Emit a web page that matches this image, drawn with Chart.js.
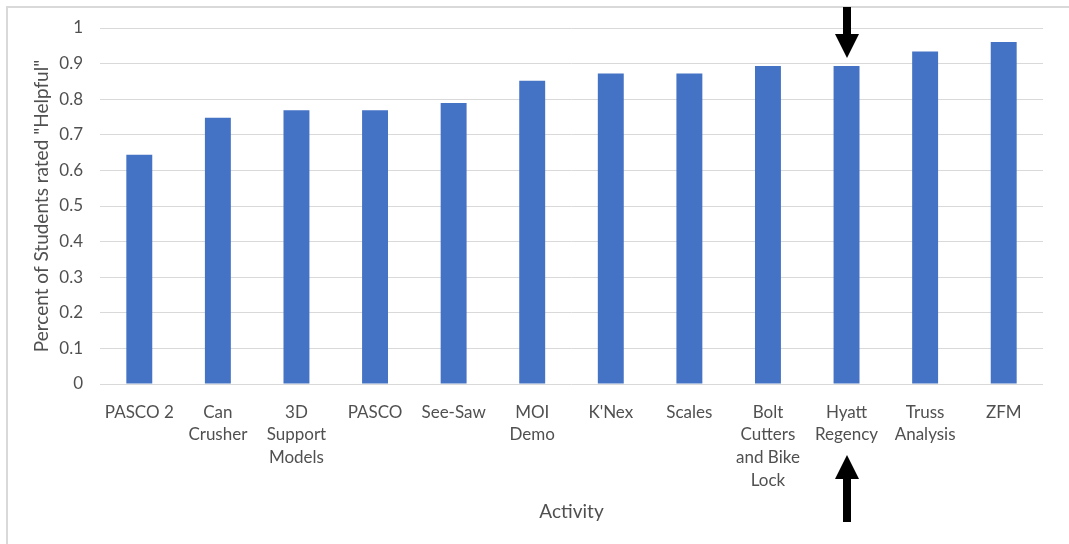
<!DOCTYPE html>
<html>
<head>
<meta charset="utf-8">
<script src="https://cdn.jsdelivr.net/npm/chart.js@4"></script>
<style>
  html, body { margin: 0; padding: 0; background: #ffffff; }
  #wrap { position: relative; width: 1069px; height: 544px; }
</style>
</head>
<body>
<div id="wrap"><canvas id="c" width="1069" height="544"></canvas></div>
<script>
// Activities, shown with their label line breaks
const categories = [
  ['PASCO 2'],
  ['Can', 'Crusher'],
  ['3D', 'Support', 'Models'],
  ['PASCO'],
  ['See-Saw'],
  ['MOI', 'Demo'],
  ["K'Nex"],
  ['Scales'],
  ['Bolt', 'Cutters', 'and Bike', 'Lock'],
  ['Hyatt', 'Regency'],
  ['Truss', 'Analysis'],
  ['ZFM']
];

// Share of students rating each activity "Helpful"
const helpfulShare = [0.644, 0.748, 0.769, 0.769, 0.789, 0.852, 0.872, 0.872, 0.893, 0.893, 0.934, 0.961];

// Value axis ticks
const yTicks = [0, 0.1, 0.2, 0.3, 0.4, 0.5, 0.6, 0.7, 0.8, 0.9, 1];

// Activity singled out with arrows above and below
const highlighted = 'Hyatt Regency';

const fontFamily = 'Lato, "Liberation Sans", sans-serif';
const textColor = '#505050';
const gridColor = '#d9d9d9';

// Light frame along the top and left edge
const framePlugin = {
  id: 'frame',
  beforeDraw(chart) {
    const ctx = chart.ctx;
    ctx.save();
    ctx.fillStyle = '#ffffff';
    ctx.fillRect(0, 0, chart.width, chart.height);
    ctx.strokeStyle = '#d9d9d9';
    ctx.lineWidth = 2;
    ctx.beginPath();
    ctx.moveTo(7, chart.height);
    ctx.lineTo(7, 7);
    ctx.lineTo(chart.width, 7);
    ctx.stroke();
    ctx.restore();
  }
};

// Black arrows pointing at the highlighted activity
const arrowPlugin = {
  id: 'arrows',
  afterDraw(chart) {
    const idx = categories.findIndex(c => c.join(' ') === highlighted);
    if (idx < 0) return;
    const xs = chart.scales.x, ys = chart.scales.y;
    const x = Math.round(xs.getPixelForValue(idx));
    const ctx = chart.ctx;
    const shaftHalf = 4, headHalf = 12, headLen = 24;
    ctx.save();
    ctx.fillStyle = '#000000';

    // pointing down onto the bar
    const tip = ys.getPixelForValue(helpfulShare[idx]) - 8;
    ctx.fillRect(x - shaftHalf, 7, shaftHalf * 2, tip - headLen - 7 + 1);
    ctx.beginPath();
    ctx.moveTo(x - headHalf, tip - headLen);
    ctx.lineTo(x + headHalf, tip - headLen);
    ctx.lineTo(x, tip);
    ctx.closePath();
    ctx.fill();

    // pointing up at the label
    const tip2 = 455, tail2 = 522;
    ctx.fillRect(x - shaftHalf, tip2 + headLen - 1, shaftHalf * 2, tail2 - tip2 - headLen + 1);
    ctx.beginPath();
    ctx.moveTo(x - headHalf, tip2 + headLen);
    ctx.lineTo(x + headHalf, tip2 + headLen);
    ctx.lineTo(x, tip2);
    ctx.closePath();
    ctx.fill();
    ctx.restore();
  }
};

new Chart(document.getElementById('c'), {
  type: 'bar',
  data: {
    labels: categories,
    datasets: [{
      data: helpfulShare,
      backgroundColor: '#4472C4',
      borderWidth: 0,
      categoryPercentage: 1.0,
      barPercentage: 0.33
    }]
  },
  options: {
    responsive: false,
    animation: false,
    devicePixelRatio: 1,
    layout: { padding: { top: 28, right: 26, left: 0, bottom: 0 } },
    plugins: {
      legend: { display: false },
      tooltip: { enabled: false }
    },
    scales: {
      x: {
        grid: { display: false, drawTicks: false },
        border: { display: false },
        ticks: {
          color: textColor,
          font: { family: fontFamily, size: 17, lineHeight: 1.33 },
          padding: 17,
          maxRotation: 0,
          autoSkip: false
        },
        title: {
          display: true,
          text: 'Activity',
          color: textColor,
          font: { family: fontFamily, size: 19 },
          padding: { top: 4, bottom: 21 }
        },
        afterFit(scale) { scale.height = 160; }
      },
      y: {
        min: 0,
        max: 1,
        afterBuildTicks(scale) { scale.ticks = yTicks.map(v => ({ value: v })); },
        grid: { color: gridColor, lineWidth: 1, drawTicks: false },
        border: { display: false },
        ticks: {
          color: textColor,
          font: { family: fontFamily, size: 17 },
          padding: 17,
          callback: v => String(Math.round(v * 10) / 10)
        },
        title: {
          display: true,
          text: 'Percent of Students rated "Helpful"',
          color: textColor,
          font: { family: fontFamily, size: 19 },
          padding: { top: 30, bottom: 0 }
        },
        afterFit(scale) { scale.width = 100; }
      }
    }
  },
  plugins: [framePlugin, arrowPlugin]
});
</script>
</body>
</html>
